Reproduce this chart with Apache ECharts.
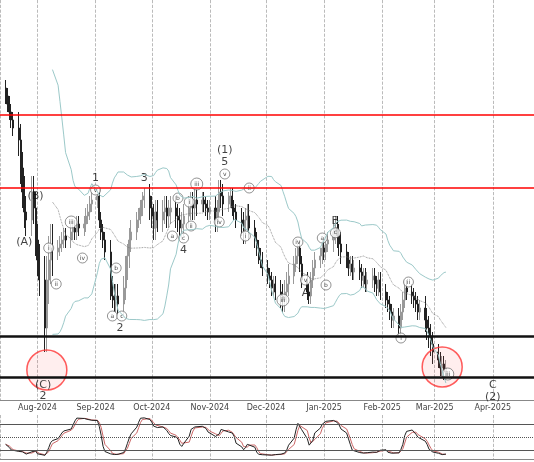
<!DOCTYPE html>
<html>
<head>
<meta charset="utf-8">
<script src="https://cdn.jsdelivr.net/npm/echarts@6/dist/echarts.min.js"></script>
<style>html,body{margin:0;padding:0;background:#fff}#chart{width:534px;height:462px}</style>
</head>
<body>
<div id="chart"></div>
<script>
//收盘价, 每周5个交易日, 从2024-07-15开始
var closes = [
    76, 74, 72, 70, 68,   65, 58, 52, 47, 45,   52, 48, 40, 35, 30,
    18, 30, 35, 38, 37,   38, 39, 40, 41, 40,   42, 43, 42, 44, 43,
    44, 46, 47, 49, 50,   51, 45, 42, 40, 37,   28, 26, 25, 26, 24,
    28, 33, 36, 40, 42,   45, 46, 48, 50, 51,   48, 46, 43, 47, 45,
    47, 48, 46, 47, 48,   46, 45, 43, 44, 46,   48, 49, 48, 50, 49,
    50, 49, 48, 47, 48,   45, 47, 52, 51, 49,   50, 51, 48, 47, 45,
    44, 42, 45, 46, 43,   40, 38, 36, 35, 33,   31, 30, 28, 29, 27,
    26, 25, 27, 29, 31,   34, 36, 38, 34, 30,   27, 26, 30, 33, 35,
    36, 38, 37, 39, 40,   42, 43, 41, 39, 37,   35, 33, 34, 32, 33,
    32, 30, 31, 29, 30,   31, 29, 28, 30, 27,   25, 24, 22, 20, 21,
    18, 22, 25, 28, 27,   26, 25, 24, 22, 23,   20, 18, 16, 14, 12,
    10, 8, 9, 7, 8
];
//每周的K线振幅
var weekSpread = [2, 4, 4, 6, 2, 2, 2, 2, 3, 3, 2, 3, 3, 3, 3, 2, 3, 2, 3, 2, 2, 3, 2, 2, 2, 3, 2, 2, 2, 2, 2, 2, 3, 2];
//水平线
var redLevels = [71.25, 53];
var blackLevels = [16, 5.75];
//波浪标注 [日期, 价格, 文字, 是否带圈]
var waveLabels = [
    ['2024-07-31', 51, '(B)', 0], ['2024-07-25', 39.5, '(A)', 0],
    ['2024-08-07', 38, 'i', 1], ['2024-08-11', 29, 'ii', 1], ['2024-08-19', 44.5, 'iii', 1],
    ['2024-08-25', 35.5, 'iv', 1], ['2024-09-01', 52.5, 'v', 1], ['2024-09-01', 55.5, '1', 0],
    ['2024-09-12', 33, 'b', 1], ['2024-09-10', 21, 'a', 1], ['2024-09-15', 21, 'c', 1],
    ['2024-09-14', 18, '2', 0], ['2024-09-27', 55.5, '3', 0],
    ['2024-10-12', 41, 'a', 1], ['2024-10-15', 50.5, 'b', 1], ['2024-10-18', 40.5, 'c', 1],
    ['2024-10-18', 37.5, '4', 0], ['2024-10-21', 49.5, 'i', 1], ['2024-10-22', 43.5, 'ii', 1],
    ['2024-10-25', 54, 'iii', 1], ['2024-11-06', 44.5, 'iv', 1], ['2024-11-09', 56.5, 'v', 1],
    ['2024-11-09', 59.5, '5', 0], ['2024-11-09', 62.5, '(1)', 0],
    ['2024-11-22', 53, 'ii', 1], ['2024-11-20', 41, 'i', 1], ['2024-12-10', 25, 'iii', 1],
    ['2024-12-18', 39.5, 'iv', 1], ['2024-12-22', 30, 'v', 1], ['2024-12-22', 26.75, 'A', 0],
    ['2024-12-31', 40.5, 'a', 1], ['2025-01-07', 44.75, 'B', 0], ['2025-01-07', 41.8, 'c', 1],
    ['2025-01-02', 28.75, 'b', 1], ['2025-02-11', 15.5, 'i', 1], ['2025-02-15', 29.5, 'ii', 1],
    ['2025-03-08', 6.5, 'iii', 1], ['2025-04-01', 3.75, 'C', 0], ['2025-04-01', 0.8, '(2)', 0],
    ['2024-08-04', 3.75, '(C)', 0], ['2024-08-04', 1, '2', 0]
];
//红圈位置
var circles = [['2024-08-06', 7.5], ['2025-03-05', 8.25]];

//生成交易日期
var dates = [];
var d = new Date(2024, 6, 15);
while (dates.length < closes.length) {
    if (d.getDay() != 0 && d.getDay() != 6) dates.push(d.getTime());
    d.setDate(d.getDate() + 1);
}
var bars = [], highs = [], lows = [];
for (var i = 0; i < closes.length; i++) {
    var o = i == 0 ? closes[0] + 2 : closes[i - 1];
    var s = weekSpread[Math.floor(i / 5)];
    var h = Math.max(o, closes[i]) + s, l = Math.min(o, closes[i]) - s;
    highs.push(h); lows.push(l);
    bars.push([dates[i], o, closes[i], l, h]);
}
//布林带
var ma = [], up = [], dn = [];
for (var i = 19; i < closes.length; i++) {
    var sum = 0, sq = 0;
    for (var j = i - 19; j <= i; j++) sum += closes[j];
    var m = sum / 20;
    for (var j = i - 19; j <= i; j++) sq += (closes[j] - m) * (closes[j] - m);
    var sd = Math.sqrt(sq / 20);
    ma.push([dates[i], m]); up.push([dates[i], m + 2 * sd]); dn.push([dates[i], m - 2 * sd]);
}
//随机指标
var kRaw = [], kLine = [], dLine = [];
for (var i = 0; i < closes.length; i++) {
    var hh = -1e9, ll = 1e9;
    for (var j = Math.max(0, i - 13); j <= i; j++) { hh = Math.max(hh, highs[j]); ll = Math.min(ll, lows[j]); }
    kRaw.push(hh == ll ? 50 : (closes[i] - ll) / (hh - ll) * 100);
}
function smooth(arr, n) {
    var out = [];
    for (var i = 0; i < arr.length; i++) {
        var s = 0, c = 0;
        for (var j = Math.max(0, i - n + 1); j <= i; j++) { s += arr[j]; c++; }
        out.push(s / c);
    }
    return out;
}
var kS = smooth(kRaw, 3), dS = smooth(kS, 3);
for (var i = 0; i < closes.length; i++) { kLine.push([dates[i], kS[i]]); dLine.push([dates[i], dS[i]]); }

var xMin = new Date(2024, 6, 12).getTime(), xMax = new Date(2025, 3, 23).getTime();
var DAY = 86400000;
function timeAxis(idx, showLabel) {
    return {
        type: 'time', gridIndex: idx, min: xMin, max: xMax,
        minInterval: 28 * DAY, maxInterval: 31 * DAY,
        axisLine: { show: true, lineStyle: { color: '#888' } },
        axisTick: { show: false },
        axisLabel: {
            show: showLabel, fontSize: 8, color: '#444', fontFamily: 'DejaVu Sans', margin: 4,
            formatter: function (v) {
                var dt = new Date(v);
                return ['Jan', 'Feb', 'Mar', 'Apr', 'May', 'Jun', 'Jul', 'Aug', 'Sep', 'Oct', 'Nov', 'Dec'][dt.getMonth()] + '-' + dt.getFullYear();
            }
        },
        splitLine: { show: true, lineStyle: { color: '#aaa', type: 'dashed', width: 0.8 } }
    };
}
var markLines = [];
redLevels.forEach(function (v) { markLines.push({ yAxis: v, lineStyle: { color: '#f00', width: 1.5, type: 'solid' } }); });
blackLevels.forEach(function (v) { markLines.push({ yAxis: v, lineStyle: { color: '#111', width: 2.5, type: 'solid' } }); });

var labelData = waveLabels.map(function (w) {
    return {
        value: [new Date(w[0]).getTime(), w[1]],
        symbolSize: w[2].length > 2 ? 12 : 10,
        itemStyle: w[3] ? { color: '#fff', borderColor: '#555', borderWidth: 0.8 } : { color: 'rgba(255,255,255,0)', borderWidth: 0 },
        label: { show: true, formatter: w[2], position: 'inside', fontSize: w[3] ? 6 : 11, color: '#111', fontFamily: 'DejaVu Sans' }
    };
});

var chart = echarts.init(document.getElementById('chart'));
chart.setOption({
    animation: false,
    backgroundColor: '#fff',
    grid: [
        { left: 0, right: 0, top: 0, height: 400 },
        { left: 0, right: 0, top: 415, height: 44 }
    ],
    xAxis: [timeAxis(0, true), timeAxis(1, false)],
    yAxis: [
        { gridIndex: 0, min: 0, max: 100, show: false, splitLine: { show: false } },
        { gridIndex: 1, min: 0, max: 100, show: false, splitLine: { show: false } }
    ],
    series: [
        { type: 'line', data: up, showSymbol: false, lineStyle: { color: '#9cc9c9', width: 1 }, xAxisIndex: 0, yAxisIndex: 0 },
        { type: 'line', data: dn, showSymbol: false, lineStyle: { color: '#9cc9c9', width: 1 } },
        { type: 'line', data: ma, showSymbol: false, lineStyle: { color: '#777', width: 0.8, type: 'dotted' } },
        {
            type: 'candlestick', data: bars, barMaxWidth: 2,
            itemStyle: { color: '#999', color0: '#222', borderColor: '#999', borderColor0: '#222', borderWidth: 1 },
            markLine: { symbol: 'none', silent: true, label: { show: false }, data: markLines }
        },
        {
            type: 'scatter', data: circles.map(function (c) { return [new Date(c[0]).getTime(), c[1]]; }),
            symbolSize: 40, itemStyle: { color: 'rgba(255,80,80,0.12)', borderColor: '#f33', borderWidth: 1.5 }
        },
        { type: 'scatter', data: labelData, labelLayout: { hideOverlap: false } },
        {
            type: 'line', xAxisIndex: 1, yAxisIndex: 1, data: dLine, showSymbol: false, lineStyle: { color: '#c66', width: 1 },
            markLine: {
                symbol: 'none', silent: true, label: { show: false },
                data: [
                    { yAxis: 80, lineStyle: { color: '#555', width: 1, type: 'solid' } },
                    { yAxis: 50, lineStyle: { color: '#555', width: 1, type: 'dotted' } },
                    { yAxis: 20, lineStyle: { color: '#555', width: 1, type: 'solid' } }
                ]
            }
        },
        { type: 'line', xAxisIndex: 1, yAxisIndex: 1, data: kLine, showSymbol: false, lineStyle: { color: '#222', width: 1 } }
    ]
});
</script>
</body>
</html>
